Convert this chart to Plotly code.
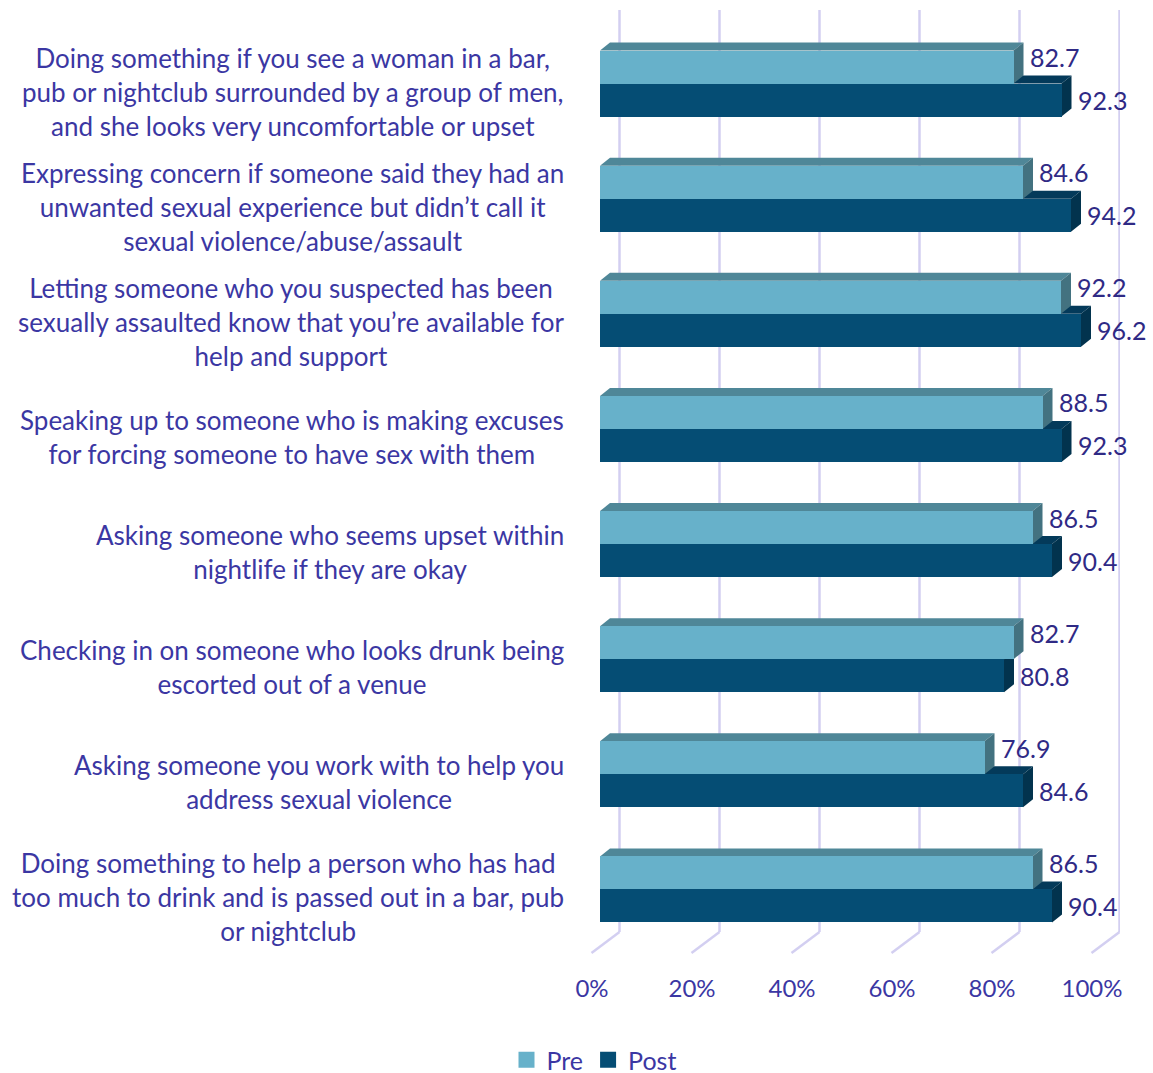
import plotly.graph_objects as go

# ---- data -------------------------------------------------------------
categories = [
    "Doing something if you see a woman in a bar,<br>pub or nightclub surrounded by a group of men,<br>and she looks very uncomfortable or upset",
    "Expressing concern if someone said they had an<br>unwanted sexual experience but didn’t call it<br>sexual violence/abuse/assault",
    "Letting someone who you suspected has been<br>sexually assaulted know that you’re available for<br>help and support",
    "Speaking up to someone who is making excuses<br>for forcing someone to have sex with them",
    "Asking someone who seems upset within<br>nightlife if they are okay",
    "Checking in on someone who looks drunk being<br>escorted out of a venue",
    "Asking someone you work with to help you<br>address sexual violence",
    "Doing something to help a person who has had<br>too much to drink and is passed out in a bar, pub<br>or nightclub",
]
pre_values = [82.7, 84.6, 92.2, 88.5, 86.5, 82.7, 76.9, 86.5]
post_values = [92.3, 94.2, 96.2, 92.3, 90.4, 80.8, 84.6, 90.4]
series_names = ["Pre", "Post"]
x_tick_values = [0, 20, 40, 60, 80, 100]
x_tick_labels = ["0%", "20%", "40%", "60%", "80%", "100%"]

# ---- style ------------------------------------------------------------
W, H = 1153, 1073
PX_PER_X = 5.0                    # pixels per percentage point
X_MIN, X_MAX = -2, 104            # room for the 3-D floor and back wall
PLOT_W = (X_MAX - X_MIN) * PX_PER_X
M_L = 600 + X_MIN * PX_PER_X
M_R = W - M_L - PLOT_W
M_T, M_B = 26, 126
PLOT_H = H - M_T - M_B
PX_PER_CAT = PLOT_H / len(categories)

FONT = "Lato, 'Open Sans', sans-serif"
TEXT_COL = "#3b37a3"
VALUE_COL = "#2f2a85"
GRID_COL = "#d3cff1"

PRE_FRONT, PRE_TOP, PRE_SIDE = "#67b1ca", "#4f8798", "#437280"
POST_FRONT, POST_TOP, POST_SIDE = "#054d74", "#043a5a", "#02334e"

BAR_W = 33 / PX_PER_CAT          # bar thickness in category units
DX = 10 / PX_PER_X               # depth of the 3-D bars, x units
DY = 8 / PX_PER_CAT              # depth of the 3-D bars, y units

ypos = list(range(len(categories)))


def paper_y(px):
    return (H - M_B - px) / PLOT_H


def paper_x(px):
    return (px - M_L) / PLOT_W


fig = go.Figure()

# front faces of the bars
fig.add_trace(go.Bar(
    y=ypos, x=pre_values, orientation="h", width=BAR_W, offset=-BAR_W,
    marker=dict(color=PRE_FRONT, line=dict(width=0)),
    name=series_names[0], showlegend=False, hoverinfo="x",
))
fig.add_trace(go.Bar(
    y=ypos, x=post_values, orientation="h", width=BAR_W, offset=0,
    marker=dict(color=POST_FRONT, line=dict(width=0)),
    name=series_names[1], showlegend=False, hoverinfo="x",
))

# legend entries
for nm, col in zip(series_names, [PRE_FRONT, POST_FRONT]):
    fig.add_trace(go.Scatter(
        x=[None], y=[None], mode="markers", name=nm,
        marker=dict(symbol="square", size=16, color=col),
    ))

shapes = []

# back-wall gridlines with their floor returns
BACK_OFF = 19.5 / PX_PER_X
FRONT_OFF = -8.5 / PX_PER_X
for t in x_tick_values:
    shapes.append(dict(type="line", xref="x", yref="paper", layer="below",
                       x0=t + BACK_OFF, x1=t + BACK_OFF,
                       y0=paper_y(10), y1=paper_y(932),
                       line=dict(color=GRID_COL, width=2.5)))
    shapes.append(dict(type="line", xref="x", yref="paper", layer="below",
                       x0=t + BACK_OFF, x1=t + FRONT_OFF,
                       y0=paper_y(932), y1=paper_y(953),
                       line=dict(color=GRID_COL, width=2.5)))


def poly(points, color):
    d = "M " + " L ".join(f"{x},{y}" for x, y in points) + " Z"
    return dict(type="path", path=d, xref="x", yref="y", layer="below",
                fillcolor=color, line=dict(width=0))


# top and side faces of the bars
for g, vp, vq in zip(ypos, pre_values, post_values):
    top_pre = g - BAR_W
    shapes.append(poly([(0, g), (DX, g - DY), (vq + DX, g - DY), (vq, g)], POST_TOP))
    shapes.append(poly([(vq, g), (vq + DX, g - DY), (vq + DX, g + BAR_W - DY), (vq, g + BAR_W)], POST_SIDE))
    shapes.append(poly([(0, top_pre), (DX, top_pre - DY), (vp + DX, top_pre - DY), (vp, top_pre)], PRE_TOP))
    shapes.append(poly([(vp, top_pre), (vp + DX, top_pre - DY), (vp + DX, g - DY), (vp, g)], PRE_SIDE))

annotations = []

# category labels, centred lines in a right-aligned block
for g, cat in zip(ypos, categories):
    annotations.append(dict(
        text=cat, xref="paper", yref="y", x=paper_x(566), y=g,
        xanchor="right", yanchor="middle", align="center", yshift=-8,
        showarrow=False, font=dict(family=FONT, size=26, color=TEXT_COL),
    ))

# value labels
for g, vp, vq in zip(ypos, pre_values, post_values):
    annotations.append(dict(
        text=f"{vp:.1f}", xref="x", yref="y", x=vp, y=g - BAR_W / 2,
        xanchor="left", yanchor="middle", xshift=14, yshift=10,
        showarrow=False, font=dict(family=FONT, size=25, color=VALUE_COL),
    ))
    annotations.append(dict(
        text=f"{vq:.1f}", xref="x", yref="y", x=vq, y=g + BAR_W / 2,
        xanchor="left", yanchor="middle", xshift=14, yshift=0,
        showarrow=False, font=dict(family=FONT, size=25, color=VALUE_COL),
    ))

fig.update_layout(
    width=W, height=H,
    margin=dict(l=M_L, r=M_R, t=M_T, b=M_B, autoexpand=False),
    paper_bgcolor="white", plot_bgcolor="rgba(0,0,0,0)",
    barmode="overlay", bargap=0,
    shapes=shapes, annotations=annotations,
    font=dict(family=FONT, color=TEXT_COL, size=24),
    showlegend=True,
    legend=dict(orientation="h", x=paper_x(594), xanchor="center",
                y=paper_y(1060), yanchor="middle",
                font=dict(family=FONT, size=25, color=TEXT_COL),
                itemclick=False, itemdoubleclick=False),
    xaxis=dict(range=[X_MIN, X_MAX], tickvals=x_tick_values, ticktext=x_tick_labels,
               showgrid=False, zeroline=False, showline=False, ticks="",
               ticklabelshift=-8, ticklabelstandoff=25,
               tickfont=dict(family=FONT, size=24, color=TEXT_COL),
               fixedrange=True),
    yaxis=dict(range=[len(categories) - 0.5, -0.5], showticklabels=False,
               showgrid=False, zeroline=False, showline=False, fixedrange=True),
)

fig.write_html("out.html")
